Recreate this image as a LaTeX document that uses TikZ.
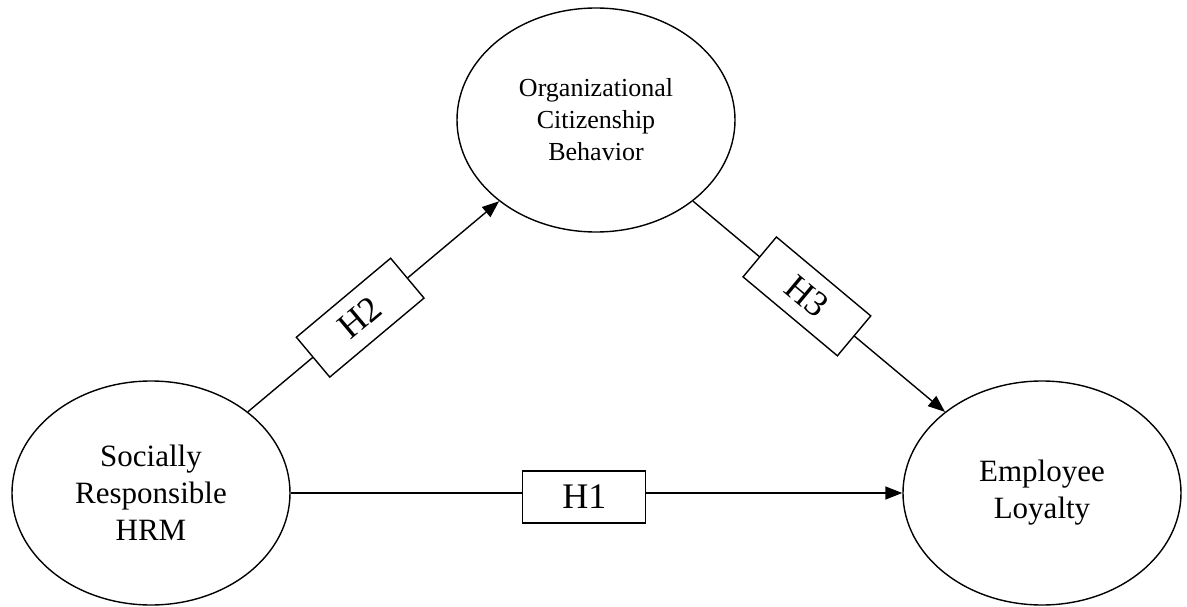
\documentclass[tikz,border=0pt]{standalone}
\usepackage{fontspec}
\setmainfont{Liberation Serif}
\usetikzlibrary{arrows.meta,shapes.geometric}
\begin{document}
\begin{tikzpicture}[x=1pt,y=-1pt,
  construct/.style={draw, ellipse, line width=1.4pt, minimum width=278pt, minimum height=224pt, inner sep=0pt, align=center},
  sidefont/.style={font=\fontsize{31}{37}\selectfont},
  topfont/.style={font=\fontsize{26}{32}\selectfont},
  hyp/.style={draw, fill=white, line width=1.4pt, minimum width=123pt, minimum height=52pt, inner sep=0pt, font=\fontsize{36}{40}\selectfont},
  link/.style={line width=1.4pt, -{Triangle[length=17pt,width=13pt]}}
]
\useasboundingbox (0,0) rectangle (1187,607);
\node[construct, sidefont] (srhrm) at (151,493) {Socially\\Responsible\\HRM};
\node[construct, topfont] (ocb) at (596,120) {Organizational\\Citizenship\\Behavior};
\node[construct, sidefont] (loyal) at (1042,493) {Employee\\Loyalty};
\draw[link] (srhrm) -- (loyal) node[hyp, pos=0.48, yshift=-4pt] (h1) {H1};
\draw[link] (srhrm) -- (ocb) node[hyp, sloped, pos=0.447] (h2) {H2};
\draw[link] (ocb) -- (loyal) node[hyp, sloped, pos=0.452] (h3) {H3};
\end{tikzpicture}
\end{document}
